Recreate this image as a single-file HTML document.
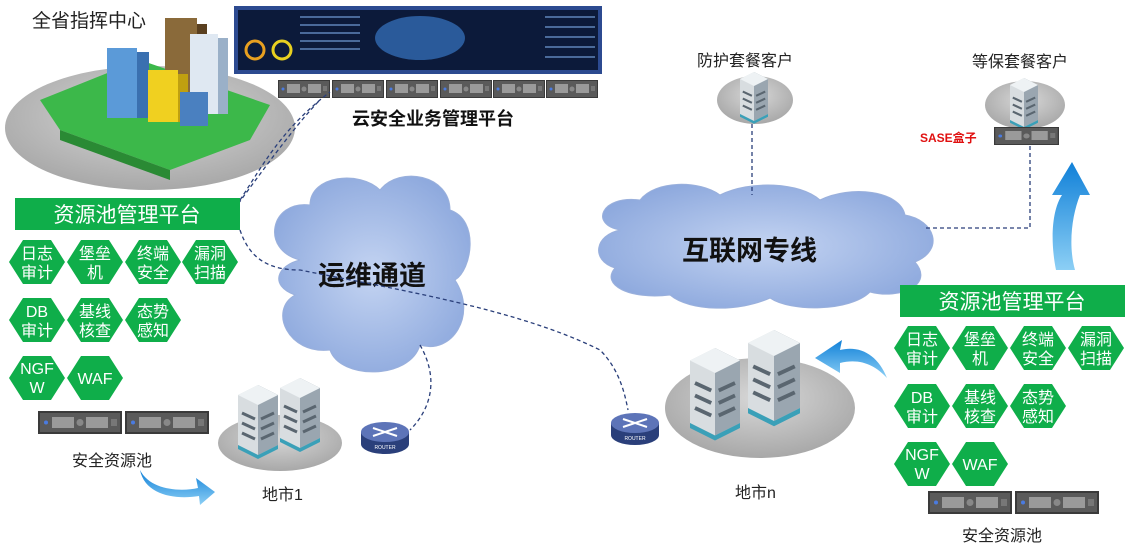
<!DOCTYPE html>
<html><head><meta charset="utf-8"><style>
body{margin:0;background:#fff;}
svg text{font-family:"Liberation Sans","Noto Sans CJK SC",sans-serif;}
</style></head><body>
<svg width="1139" height="555" viewBox="0 0 1139 555" xmlns="http://www.w3.org/2000/svg">
<defs>
<radialGradient id="gr" cx="50%" cy="40%" r="60%"><stop offset="0" stop-color="#d8d8d8"/><stop offset="1" stop-color="#a8a8a8"/></radialGradient>
<radialGradient id="cl" cx="50%" cy="50%" r="60%"><stop offset="0" stop-color="#c4d4f2"/><stop offset="1" stop-color="#8aa6dc"/></radialGradient>
<linearGradient id="ar" x1="0" y1="1" x2="0" y2="0"><stop offset="0" stop-color="#8ccff5"/><stop offset="1" stop-color="#1080d8"/></linearGradient>
<g id="srv"><rect width="84" height="23" fill="#3a3a3a"/><rect x="2" y="2" width="80" height="19" fill="#5a5a5a"/><circle cx="8" cy="11.5" r="2" fill="#4a7be0"/><rect x="14" y="6" width="22" height="11" fill="#9a9a9a"/><circle cx="42" cy="11.5" r="3.5" fill="#888"/><rect x="48" y="6" width="22" height="11" fill="#9a9a9a"/><rect x="73" y="8" width="6" height="7" fill="#777"/></g>
<g id="srvs"><rect width="52" height="18" fill="#3a3a3a"/><rect x="1" y="1" width="50" height="16" fill="#5a5a5a"/><circle cx="5" cy="9" r="1.5" fill="#4a7be0"/><rect x="9" y="4" width="13" height="9" fill="#9a9a9a"/><circle cx="26" cy="9" r="2.5" fill="#888"/><rect x="30" y="4" width="13" height="9" fill="#9a9a9a"/><rect x="45" y="6" width="4" height="5" fill="#777"/></g>
<g id="hex"><polygon points="-14,-22 14,-22 28,0 14,22 -14,22 -28,0" fill="#0fae4a"/></g>
<g id="bld"><polygon points="0,10 20,0 40,10 40,60 20,70 0,60" fill="#d8dde0"/><polygon points="20,0 40,10 40,60 20,70" fill="#9aa6b0"/><polygon points="0,10 20,0 40,10 20,20" fill="#eef2f4"/><g stroke="#5a6670" stroke-width="3"><line x1="4" y1="28" x2="17" y2="34"/><line x1="4" y1="38" x2="17" y2="44"/><line x1="4" y1="48" x2="17" y2="54"/><line x1="23" y1="34" x2="36" y2="28"/><line x1="23" y1="44" x2="36" y2="38"/><line x1="23" y1="54" x2="36" y2="48"/></g><polygon points="0,60 20,70 40,60 40,64 20,74 0,64" fill="#3aa0b8"/></g>
<g id="rtr"><ellipse cx="0" cy="12" rx="24" ry="10" fill="#2a3f7a"/><rect x="-24" y="0" width="48" height="12" fill="#2a3f7a"/><ellipse cx="0" cy="0" rx="24" ry="10" fill="#5d74b8"/><g stroke="#fff" stroke-width="2"><line x1="-12" y1="-4" x2="12" y2="4"/><line x1="-12" y1="4" x2="12" y2="-4"/></g><text x="0" y="17" font-size="5" fill="#fff" text-anchor="middle">ROUTER</text></g>
</defs>

<ellipse cx="150" cy="128" rx="145" ry="62" fill="url(#gr)"/>
<polygon points="40,100 140,60 270,105 250,140 170,170 60,130" fill="#3cb84a"/>
<polygon points="60,130 170,170 170,180 60,140" fill="#2a8a34"/>
<rect x="107" y="48" width="30" height="70" fill="#5b9ad8"/><rect x="137" y="52" width="12" height="66" fill="#3a70b0"/>
<rect x="165" y="18" width="32" height="82" fill="#8a6a3a"/><rect x="197" y="24" width="10" height="76" fill="#5a4020"/>
<rect x="190" y="34" width="28" height="80" fill="#dfe8f2"/><rect x="218" y="38" width="10" height="76" fill="#9ab0c8"/>
<rect x="148" y="70" width="30" height="52" fill="#f0d020"/><rect x="178" y="74" width="10" height="48" fill="#c0a010"/>
<rect x="180" y="92" width="28" height="34" fill="#4a80c0"/>
<text x="32" y="27" font-size="19" fill="#222">全省指挥中心</text>

<rect x="234" y="6" width="368" height="68" fill="#2c4a90"/>
<rect x="238" y="10" width="360" height="60" fill="#0c1a3a"/>
<ellipse cx="420" cy="38" rx="45" ry="22" fill="#2a5a9a"/>
<circle cx="255" cy="50" r="9" fill="none" stroke="#e8a020" stroke-width="3"/>
<circle cx="282" cy="50" r="9" fill="none" stroke="#e8d020" stroke-width="3"/>
<g fill="#4a6a9a"><rect x="300" y="16" width="60" height="2"/><rect x="300" y="24" width="60" height="2"/><rect x="300" y="32" width="60" height="2"/><rect x="300" y="40" width="60" height="2"/><rect x="300" y="48" width="60" height="2"/><rect x="545" y="16" width="50" height="2"/><rect x="545" y="26" width="50" height="2"/><rect x="545" y="36" width="50" height="2"/><rect x="545" y="46" width="50" height="2"/><rect x="545" y="56" width="50" height="2"/></g>
<use href="#srvs" x="278" y="80"/><use href="#srvs" x="332" y="80"/><use href="#srvs" x="386" y="80"/><use href="#srvs" x="440" y="80"/><use href="#srvs" x="493" y="80"/><use href="#srvs" x="546" y="80"/>
<text x="352" y="125" font-size="18" font-weight="bold" fill="#111">云安全业务管理平台</text>

<path d="M300,260 C260,250 270,200 310,205 C310,175 360,170 380,190 C400,165 450,175 450,210 C480,220 472,270 455,280 C478,315 452,355 420,345 C410,380 340,380 330,350 C288,355 268,310 295,295 C268,285 278,265 300,260Z" fill="url(#cl)" stroke="#9ab0dc"/>
<text x="318" y="285" font-size="27" font-weight="bold" fill="#111">运维通道</text>
<path d="M620,230 C590,225 600,195 640,200 C655,180 700,180 720,195 C750,180 800,182 820,200 C850,185 900,190 905,215 C935,220 945,250 915,262 C935,285 900,300 870,292 C850,312 790,312 770,298 C740,312 690,312 670,295 C630,300 600,285 615,268 C590,260 595,235 620,230Z" fill="url(#cl)" stroke="#9ab0dc"/>
<text x="682" y="260" font-size="27" font-weight="bold" fill="#111">互联网专线</text>

<g fill="none" stroke="#2a3f7a" stroke-width="1.3" stroke-dasharray="4,3">
<path d="M240,200 C260,170 280,130 330,92"/>
<path d="M230,215 C270,160 300,120 320,100"/>
<path d="M240,230 C250,260 270,270 300,270 C400,290 520,310 600,350 C620,370 625,395 628,410"/>
<path d="M420,345 C440,380 430,410 410,430"/>
<path d="M752,124 L752,195"/>
<path d="M1030,146 L1030,228 L925,228"/>
</g>

<rect x="15" y="198" width="225" height="32" fill="#0fae4a"/>
<text x="127" y="222" font-size="21" fill="#fff" text-anchor="middle">资源池管理平台</text>
<g font-size="16" fill="#fff" text-anchor="middle">
<use href="#hex" x="37" y="262"/><text x="37" y="259">日志</text><text x="37" y="278">审计</text>
<use href="#hex" x="95" y="262"/><text x="95" y="259">堡垒</text><text x="95" y="278">机</text>
<use href="#hex" x="153" y="262"/><text x="153" y="259">终端</text><text x="153" y="278">安全</text>
<use href="#hex" x="210" y="262"/><text x="210" y="259">漏洞</text><text x="210" y="278">扫描</text>
<use href="#hex" x="37" y="320"/><text x="37" y="317">DB</text><text x="37" y="336">审计</text>
<use href="#hex" x="95" y="320"/><text x="95" y="317">基线</text><text x="95" y="336">核查</text>
<use href="#hex" x="153" y="320"/><text x="153" y="317">态势</text><text x="153" y="336">感知</text>
<use href="#hex" x="37" y="378"/><text x="37" y="374">NGF</text><text x="37" y="393">W</text>
<use href="#hex" x="95" y="378"/><text x="95" y="384">WAF</text>
</g>
<use href="#srv" x="38" y="411"/><use href="#srv" x="125" y="411"/>
<text x="72" y="466" font-size="16" fill="#222">安全资源池</text>
<path d="M140,470 C150,490 180,492 198,488 L196,478 L215,492 L200,505 L199,496 C175,500 145,495 140,470Z" fill="url(#ar)"/>

<ellipse cx="280" cy="443" rx="62" ry="28" fill="url(#gr)"/>
<use href="#bld" x="238" y="385"/>
<use href="#bld" x="280" y="378"/>
<use href="#rtr" x="385" y="432"/>
<text x="262" y="500" font-size="16" fill="#222">地市1</text>

<ellipse cx="760" cy="408" rx="95" ry="50" fill="url(#gr)"/>
<g transform="translate(690,348) scale(1.25)"><use href="#bld"/></g>
<g transform="translate(748,330) scale(1.3)"><use href="#bld"/></g>
<use href="#rtr" x="635" y="423"/>
<text x="735" y="498" font-size="16" fill="#222">地市n</text>

<text x="697" y="66" font-size="16" fill="#222">防护套餐客户</text>
<ellipse cx="755" cy="100" rx="38" ry="24" fill="url(#gr)"/>
<g transform="translate(740,72) scale(0.7)"><use href="#bld"/></g>
<text x="972" y="67" font-size="16" fill="#222">等保套餐客户</text>
<ellipse cx="1025" cy="105" rx="40" ry="24" fill="url(#gr)"/>
<g transform="translate(1010,78) scale(0.7)"><use href="#bld"/></g>
<g transform="translate(994,127) scale(1.25,1)"><use href="#srvs"/></g>
<text x="920" y="142" font-size="12" font-weight="bold" fill="#e01010">SASE盒子</text>

<path d="M1056,270 C1050,240 1052,210 1062,195 L1052,195 L1072,162 L1090,195 L1080,195 C1072,215 1068,245 1075,270Z" fill="url(#ar)"/>
<path d="M887,378 C878,355 860,345 840,350 L842,340 L815,358 L840,373 L840,363 C860,358 875,365 887,378Z" fill="url(#ar)"/>

<rect x="900" y="285" width="225" height="32" fill="#0fae4a"/>
<text x="1012" y="309" font-size="21" fill="#fff" text-anchor="middle">资源池管理平台</text>
<g font-size="16" fill="#fff" text-anchor="middle">
<use href="#hex" x="922" y="348"/><text x="922" y="345">日志</text><text x="922" y="364">审计</text>
<use href="#hex" x="980" y="348"/><text x="980" y="345">堡垒</text><text x="980" y="364">机</text>
<use href="#hex" x="1038" y="348"/><text x="1038" y="345">终端</text><text x="1038" y="364">安全</text>
<use href="#hex" x="1096" y="348"/><text x="1096" y="345">漏洞</text><text x="1096" y="364">扫描</text>
<use href="#hex" x="922" y="406"/><text x="922" y="403">DB</text><text x="922" y="422">审计</text>
<use href="#hex" x="980" y="406"/><text x="980" y="403">基线</text><text x="980" y="422">核查</text>
<use href="#hex" x="1038" y="406"/><text x="1038" y="403">态势</text><text x="1038" y="422">感知</text>
<use href="#hex" x="922" y="464"/><text x="922" y="460">NGF</text><text x="922" y="479">W</text>
<use href="#hex" x="980" y="464"/><text x="980" y="470">WAF</text>
</g>
<use href="#srv" x="928" y="491"/><use href="#srv" x="1015" y="491"/>
<text x="962" y="541" font-size="16" fill="#222">安全资源池</text>
</svg>
</body></html>
